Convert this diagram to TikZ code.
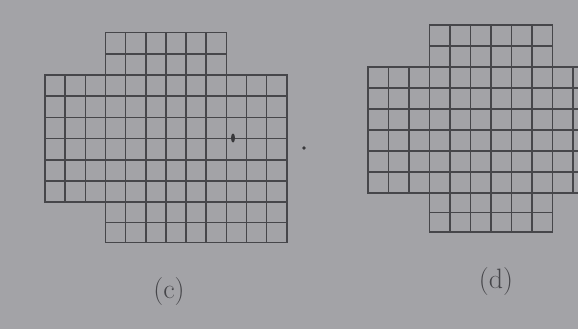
\documentclass[tikz,border=0pt]{standalone}
\usepackage{fontspec}
\usepackage{xcolor}
\usepackage{tikz}
\definecolor{paper}{HTML}{A3A3A7}
\definecolor{ink}{HTML}{46464A}

\begin{document}
\begin{tikzpicture}[
  x=1pt,y=-1pt,
  gridline/.style={draw=ink,line width=1.6pt,line cap=rect},
  speck/.style={fill=ink!80!black},
  caption/.style={font=\fontsize{28}{32}\selectfont,text=ink}
]
\fill[paper] (0,0) rectangle (578,329);
\useasboundingbox (0,0) rectangle (578,329);
\clip (0,0) rectangle (578,329);

% (c)
\begin{scope}[shift={(45,75)},x=20.15pt,y=-21.2pt]
\foreach \i in {0,...,12} \draw[gridline] (\i,0) -- (\i,6);
\foreach \j in {0,...,6} \draw[gridline] (0,\j) -- (12,\j);
\foreach \i in {3,...,9} \draw[gridline] (\i,-2) -- (\i,0);
\foreach \j in {-2,-1} \draw[gridline] (3,\j) -- (9,\j);
\foreach \i in {3,...,12} \draw[gridline] (\i,6) -- (\i,7.9);
\foreach \j in {6.95,7.9} \draw[gridline] (3,\j) -- (12,\j);
\end{scope}
\fill[speck] (233,138) ellipse (2pt and 4.5pt);
\fill[speck] (304,148) circle (1.8pt);
\node[caption] (labc) at (169,292) {(c)};

% (d)
\begin{scope}[shift={(368,67)},x=20.5pt,y=-21pt]
\foreach \i in {0,...,12} \draw[gridline] (\i,0) -- (\i,6);
\foreach \j in {0,...,6} \draw[gridline] (0,\j) -- (12,\j);
\foreach \i in {3,...,9} \draw[gridline] (\i,-2) -- (\i,0);
\foreach \j in {-2,-1} \draw[gridline] (3,\j) -- (9,\j);
\foreach \i in {3,...,9} \draw[gridline] (\i,6) -- (\i,7.85);
\foreach \j in {6.92,7.85} \draw[gridline] (3,\j) -- (9,\j);
\end{scope}
\node[caption] (labd) at (496,282) {(d)};
\end{tikzpicture}
\end{document}
